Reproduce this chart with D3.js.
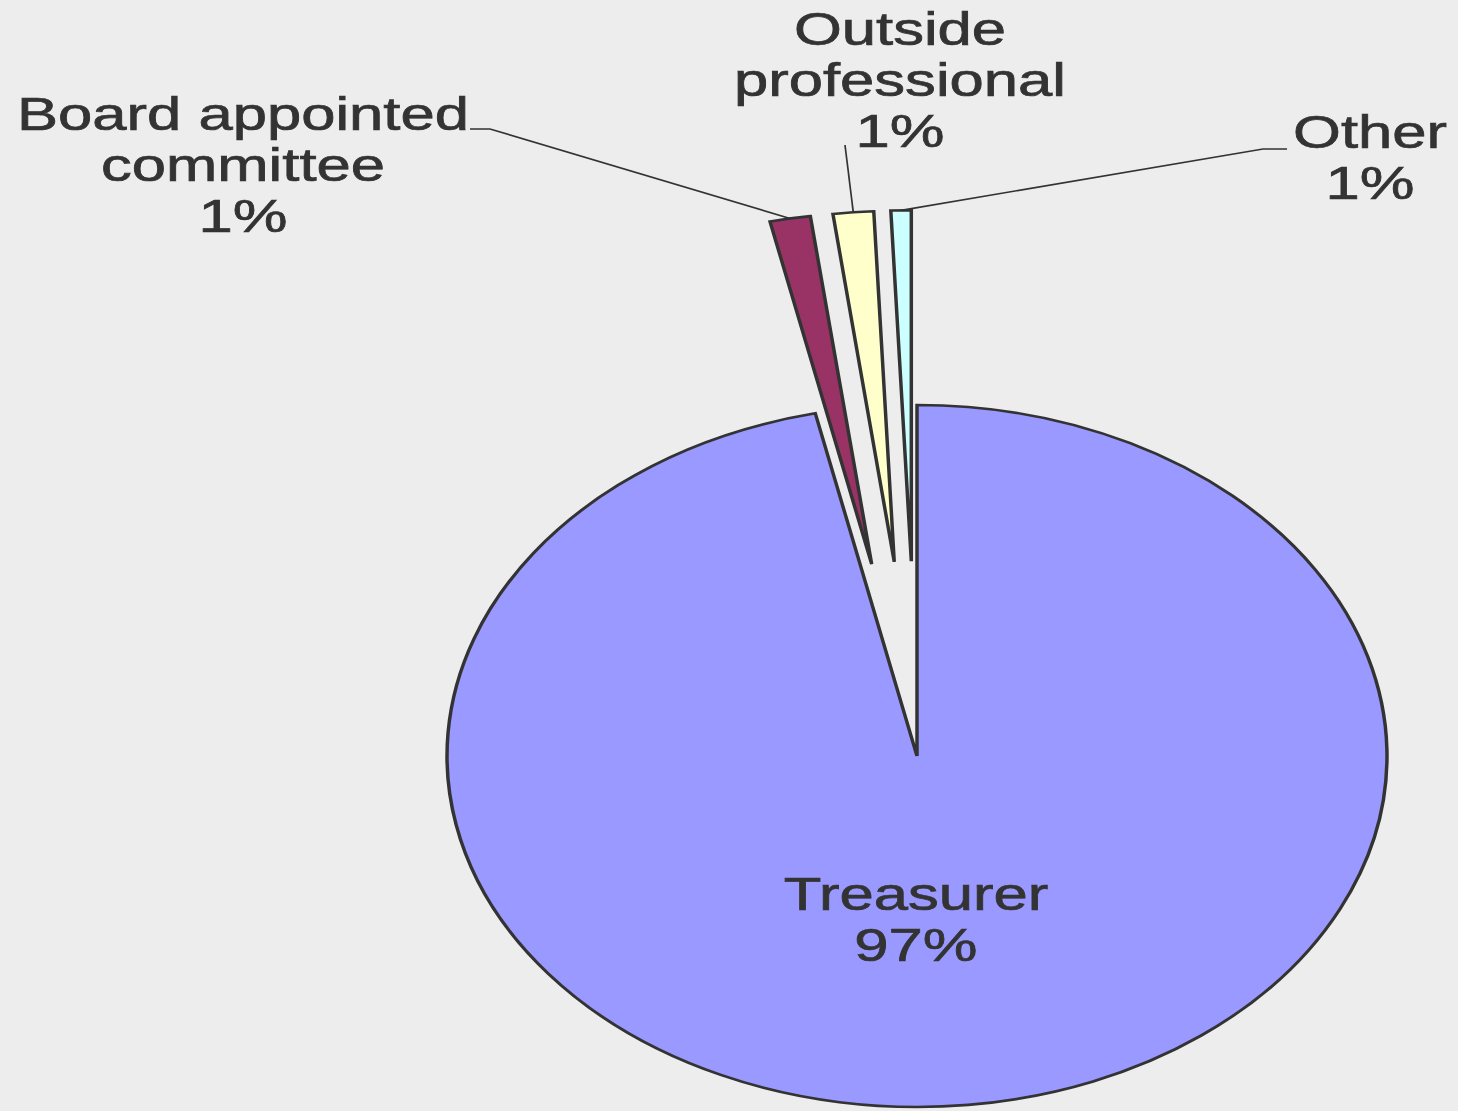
<!DOCTYPE html>
<html>
<head>
<meta charset="utf-8">
<script src="https://cdn.jsdelivr.net/npm/d3@7"></script>
<style>
  html, body { margin: 0; padding: 0; background: #ededed; }
  svg { display: block; }
  .label { font-family: "Liberation Sans", Arial, sans-serif; font-size: 46px; fill: #333333; stroke: #333333; stroke-width: 0.7px; }
</style>
</head>
<body>
<svg width="1458" height="1111"></svg>
<script>
// Data
const categories = ["Treasurer", "Board appointed committee", "Outside professional", "Other"];
const counts = [139, 2, 2, 1];
const colors = ["#9999ff", "#993366", "#ffffcc", "#ccffff"];
const exploded = [false, true, true, true];

// label lines as shown (wrapped)
const labelLines = [["Treasurer"], ["Board appointed", "committee"], ["Outside", "professional"], ["Other"]];

// Layout (pixels)
const width = 1458, height = 1111;
const cx = 917, cy = 756;
const R = 351;
const sx = 1.339;            // chart is stretched horizontally
const explodeFrac = 0.555;
const lineH = 51;

// label anchor: centre x and first baseline, and leader hook points
const labelPos = [
  {x: 916, y: 910},
  {x: 243, y: 130, hook: [[470, 129], [490, 129]]},
  {x: 900, y: 45,  hook: [[845, 145]]},
  {x: 1370, y: 148, hook: [[1287, 149], [1263, 149]]}
];

const svg = d3.select("svg");
svg.append("rect").attr("width", width).attr("height", height).attr("fill", "#ededed");

const total = d3.sum(counts);
const data = categories.map((c, i) => ({name: c, value: counts[i], color: colors[i], exploded: exploded[i], lines: labelLines[i], pos: labelPos[i]}));

const pie = d3.pie().sort(null).value(d => d.value);
const arcs = pie(data);
const arc = d3.arc().innerRadius(0).outerRadius(R);

// chart group in circle space, stretched horizontally
const g = svg.append("g").attr("transform", `translate(${cx},${cy}) scale(${sx},1)`);

function offset(d) {
  if (!d.data.exploded) return [0, 0];
  const a = (d.startAngle + d.endAngle) / 2;
  return [Math.sin(a) * R * explodeFrac, -Math.cos(a) * R * explodeFrac];
}

g.selectAll("path.slice")
  .data(arcs)
  .join("path")
  .attr("class", "slice")
  .attr("d", arc)
  .attr("transform", d => `translate(${offset(d)})`)
  .attr("fill", d => d.data.color)
  .attr("stroke", "#333333")
  .attr("stroke-width", 2.6)
  .attr("stroke-linejoin", "miter");

// leader lines (pixel space)
const toPx = p => [cx + p[0] * sx, cy + p[1]];
arcs.filter(d => d.data.pos.hook).forEach(d => {
  const a = (d.startAngle + d.endAngle) / 2;
  const r = R * (1 + explodeFrac);
  const end = toPx([Math.sin(a) * r, -Math.cos(a) * r]);
  const pts = d.data.pos.hook.concat([end]);
  svg.append("path")
    .attr("d", d3.line()(pts))
    .attr("fill", "none")
    .attr("stroke", "#333333")
    .attr("stroke-width", 1.7);
});

// labels (stretched like the chart)
const lbl = svg.append("g");
data.forEach(d => {
  const pct = Math.round(d.value / total * 100) + "%";
  const lines = d.lines.concat([pct]);
  const t = lbl.append("text")
    .attr("class", "label")
    .attr("text-anchor", "middle")
    .attr("transform", `translate(${d.pos.x},${d.pos.y}) scale(${sx},1)`);
  lines.forEach((s, k) => {
    t.append("tspan").attr("x", 0).attr("y", k * lineH).text(s);
  });
});
</script>
</body>
</html>
